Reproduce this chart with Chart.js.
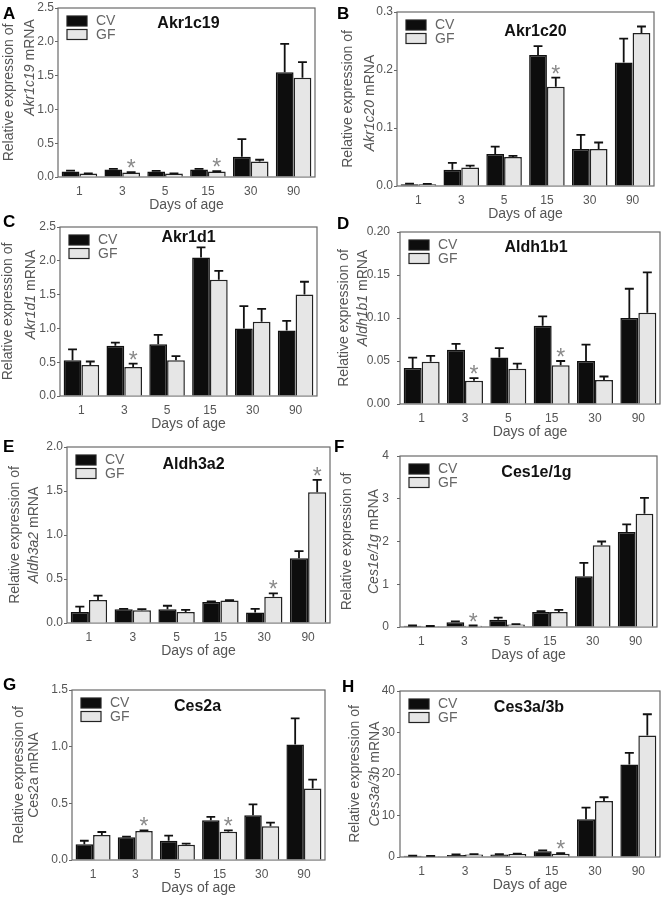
<!DOCTYPE html>
<html>
<head>
<meta charset="utf-8">
<script src="https://cdn.jsdelivr.net/npm/chart.js@4.4.0/dist/chart.umd.min.js"></script>
<style>
html, body { margin:0; padding:0; background:#fff; width:663px; height:899px; overflow:hidden; position:relative; }
canvas { position:absolute; }
.letter { position:absolute; font:bold 17px "Liberation Sans", Arial, sans-serif; line-height:17px; color:#000; }
</style>
</head>
<body>
<script>
var days = ['1', '3', '5', '15', '30', '90'];

// A - Akr1c19
var akr1c19CV    = [0.08, 0.11, 0.08, 0.11, 0.30, 1.55];
var akr1c19CVErr = [0.015, 0.01, 0.01, 0.01, 0.26, 0.42];
var akr1c19GF    = [0.05, 0.065, 0.05, 0.08, 0.23, 1.47];
var akr1c19GFErr = [0.005, 0.005, 0.005, 0.005, 0.025, 0.23];
var akr1c19Star  = [0, 1, 0, 1, 0, 0];

// B - Akr1c20
var akr1c20CV    = [0.003, 0.028, 0.055, 0.226, 0.064, 0.213];
var akr1c20CVErr = [0.001, 0.012, 0.013, 0.015, 0.024, 0.041];
var akr1c20GF    = [0.003, 0.032, 0.050, 0.171, 0.064, 0.264];
var akr1c20GFErr = [0.0005, 0.003, 0.002, 0.016, 0.011, 0.011];
var akr1c20Star  = [0, 0, 0, 1, 0, 0];

// C - Akr1d1
var akr1d1CV    = [0.53, 0.745, 0.765, 2.05, 1.00, 0.97];
var akr1d1CVErr = [0.16, 0.045, 0.14, 0.15, 0.33, 0.14];
var akr1d1GF    = [0.46, 0.43, 0.53, 1.72, 1.10, 1.50];
var akr1d1GFErr = [0.05, 0.05, 0.06, 0.13, 0.19, 0.19];
var akr1d1Star  = [0, 1, 0, 0, 0, 0];

// D - Aldh1b1
var aldh1b1CV    = [0.042, 0.063, 0.054, 0.091, 0.050, 0.100];
var aldh1b1CVErr = [0.012, 0.007, 0.011, 0.011, 0.019, 0.034];
var aldh1b1GF    = [0.049, 0.027, 0.041, 0.045, 0.028, 0.106];
var aldh1b1GFErr = [0.007, 0.003, 0.006, 0.005, 0.004, 0.047];
var aldh1b1Star  = [0, 1, 0, 1, 0, 0];

// E - Aldh3a2
var aldh3a2CV    = [0.126, 0.156, 0.156, 0.24, 0.118, 0.737];
var aldh3a2CVErr = [0.06, 0.005, 0.04, 0.005, 0.042, 0.08];
var aldh3a2GF    = [0.26, 0.145, 0.126, 0.256, 0.298, 1.485];
var aldh3a2GFErr = [0.05, 0.012, 0.024, 0.005, 0.038, 0.141];
var aldh3a2Star  = [0, 0, 0, 0, 1, 1];

// F - Ces1e/1g
var ces1eCV    = [0.03, 0.11, 0.17, 0.35, 1.19, 2.22];
var ces1eCVErr = [0.005, 0.02, 0.05, 0.02, 0.31, 0.18];
var ces1eGF    = [0.02, 0.03, 0.06, 0.35, 1.91, 2.65];
var ces1eGFErr = [0.003, 0.005, 0.005, 0.05, 0.09, 0.37];
var ces1eStar  = [0, 1, 0, 0, 0, 0];

// G - Ces2a
var ces2aCV    = [0.14, 0.20, 0.17, 0.35, 0.395, 1.02];
var ces2aCVErr = [0.03, 0.006, 0.045, 0.03, 0.095, 0.23];
var ces2aGF    = [0.22, 0.256, 0.135, 0.25, 0.297, 0.63];
var ces2aGFErr = [0.027, 0.006, 0.009, 0.012, 0.033, 0.08];
var ces2aStar  = [0, 1, 0, 1, 0, 0];

// H - Ces3a/3b
var ces3aCV    = [0.3, 0.5, 0.6, 1.4, 9.1, 22.3];
var ces3aCVErr = [0.05, 0.1, 0.1, 0.2, 2.8, 2.8];
var ces3aGF    = [0.2, 0.6, 0.7, 0.8, 13.5, 29.3];
var ces3aGFErr = [0.05, 0.1, 0.1, 0.1, 0.9, 5.1];
var ces3aStar  = [0, 0, 0, 1, 0, 0];

var FONT = '"Liberation Sans", Arial, sans-serif';
Chart.defaults.font.family = FONT;

// area = plot box in page px [left, top, right, bottom]
var panels = [
  {letter:'A', gene:'Akr1c19', italic:true, cv:akr1c19CV, cvErr:akr1c19CVErr, gf:akr1c19GF, gfErr:akr1c19GFErr, star:akr1c19Star,
   yMax:2.5, yStep:0.5, dec:1, area:[58,8,315,177], col:0, titleDx:2, titleDy:16, y1:9, y2:30, y2Shift:-25, tickPad:1, pos:[3,5]},
  {letter:'B', gene:'Akr1c20', italic:true, cv:akr1c20CV, cvErr:akr1c20CVErr, gf:akr1c20GF, gfErr:akr1c20GFErr, star:akr1c20Star,
   yMax:0.3, yStep:0.1, dec:1, area:[397,12,654,186], col:1, titleDx:10, titleDy:20, y1:16, y2:38, y2Shift:4, tickPad:1, pos:[337,5]},
  {letter:'C', gene:'Akr1d1', italic:true, cv:akr1d1CV, cvErr:akr1d1CVErr, gf:akr1d1GF, gfErr:akr1d1GFErr, star:akr1d1Star,
   yMax:2.5, yStep:0.5, dec:1, area:[60,227,317,396], col:0, titleDx:0, titleDy:11, y1:8, y2:31, y2Shift:-17, tickPad:1, pos:[3,213]},
  {letter:'D', gene:'Aldh1b1', italic:true, cv:aldh1b1CV, cvErr:aldh1b1CVErr, gf:aldh1b1GF, gfErr:aldh1b1GFErr, star:aldh1b1Star,
   yMax:0.2, yStep:0.05, dec:2, area:[400,232,660,404], col:1, titleDx:6, titleDy:16, y1:12, y2:31, y2Shift:-20, tickPad:7, pos:[337,215]},
  {letter:'E', gene:'Aldh3a2', italic:true, cv:aldh3a2CV, cvErr:aldh3a2CVErr, gf:aldh3a2GF, gfErr:aldh3a2GFErr, star:aldh3a2Star,
   yMax:2.0, yStep:0.5, dec:1, area:[67,447,330,623], col:0, titleDx:-5, titleDy:18, y1:15, y2:34, y2Shift:0, tickPad:1, pos:[3,438]},
  {letter:'F', gene:'Ces1e/1g', italic:true, cv:ces1eCV, cvErr:ces1eCVErr, gf:ces1eGF, gfErr:ces1eGFErr, star:ces1eStar,
   yMax:4, yStep:1, dec:0, area:[400,456,657,627], col:1, titleDx:8, titleDy:17, y1:15, y2:42, y2Shift:0, tickPad:8, pos:[334,438]},
  {letter:'G', gene:'Ces2a', italic:false, cv:ces2aCV, cvErr:ces2aCVErr, gf:ces2aGF, gfErr:ces2aGFErr, star:ces2aStar,
   yMax:1.5, yStep:0.5, dec:1, area:[72,690,325,860], col:0, titleDx:-1, titleDy:17, y1:19, y2:34, y2Shift:0, tickPad:1, pos:[3,676]},
  {letter:'H', gene:'Ces3a/3b', italic:true, cv:ces3aCV, cvErr:ces3aCVErr, gf:ces3aGF, gfErr:ces3aGFErr, star:ces3aStar,
   yMax:40, yStep:10, dec:0, area:[400,691,660,857], col:1, titleDx:-1, titleDy:17, y1:23, y2:43, y2Shift:0, tickPad:2, pos:[342,678]}
];

function makeExtras(p) {
  return {
    id: 'extras' + p.letter,
    beforeDatasetsDraw: function(chart) {
      var ctx = chart.ctx, ca = chart.chartArea;
      ctx.save();
      ctx.strokeStyle = '#6a6a6a';
      ctx.lineWidth = 1.2;
      ctx.strokeRect(ca.left, ca.top, ca.right - ca.left, ca.bottom - ca.top);
      ctx.restore();
    },
    afterDatasetsDraw: function(chart) {
      var ctx = chart.ctx, ca = chart.chartArea;
      var yScale = chart.scales.y;
      ctx.save();

      // error bars (upper half only) and stars
      chart.data.datasets.forEach(function(ds, i) {
        var meta = chart.getDatasetMeta(i);
        meta.data.forEach(function(bar, j) {
          var yTop = yScale.getPixelForValue(ds.data[j] + ds.err[j]);
          var capW = bar.width * 0.5;
          ctx.strokeStyle = '#111';
          ctx.lineWidth = 1.8;
          ctx.beginPath();
          ctx.moveTo(bar.x, bar.y);
          ctx.lineTo(bar.x, yTop);
          ctx.moveTo(bar.x - capW / 2, yTop);
          ctx.lineTo(bar.x + capW / 2, yTop);
          ctx.stroke();
          if (ds.star && ds.star[j]) {
            ctx.fillStyle = '#8a8a8a';
            ctx.font = '23px ' + FONT;
            ctx.textAlign = 'center';
            ctx.textBaseline = 'alphabetic';
            ctx.fillText('*', bar.x, yTop + 4);
          }
        });
      });

      // legend in the top left corner of the plot
      chart.data.datasets.forEach(function(ds, i) {
        var bx = ca.left + 9, by = ca.top + 8 + i * 13.5;
        ctx.fillStyle = ds.backgroundColor;
        ctx.fillRect(bx, by, 20, 10);
        ctx.strokeStyle = '#222';
        ctx.lineWidth = 1.2;
        ctx.strokeRect(bx, by, 20, 10);
        ctx.fillStyle = '#666';
        ctx.font = '14px ' + FONT;
        ctx.textAlign = 'left';
        ctx.textBaseline = 'middle';
        ctx.fillText(ds.label, bx + 29, by + 5.5);
      });

      // gene name inside the plot
      ctx.fillStyle = '#111';
      ctx.font = 'bold 16px ' + FONT;
      ctx.textAlign = 'center';
      ctx.textBaseline = 'middle';
      ctx.fillText(p.gene, (ca.left + ca.right) / 2 + p.titleDx, ca.top + p.titleDy);

      // y axis title, two lines, gene in italics
      var cy = (ca.top + ca.bottom) / 2;
      ctx.fillStyle = '#555';
      ctx.save();
      ctx.translate(p.y1, cy);
      ctx.rotate(-Math.PI / 2);
      ctx.font = '14px ' + FONT;
      ctx.fillText('Relative expression of', 0, 0);
      ctx.restore();

      ctx.save();
      ctx.translate(p.y2, cy + p.y2Shift);
      ctx.rotate(-Math.PI / 2);
      var geneFont = (p.italic ? 'italic ' : '') + '14px ' + FONT;
      ctx.font = geneFont;
      var w1 = ctx.measureText(p.gene).width;
      ctx.font = '14px ' + FONT;
      var w2 = ctx.measureText(' mRNA').width;
      var x0 = -(w1 + w2) / 2;
      ctx.textAlign = 'left';
      ctx.font = geneFont;
      ctx.fillText(p.gene, x0, 0);
      ctx.font = '14px ' + FONT;
      ctx.fillText(' mRNA', x0 + w1, 0);
      ctx.restore();

      ctx.restore();
    }
  };
}

panels.forEach(function(p) {
  var left = p.col === 0 ? 0 : 332;
  var width = p.col === 0 ? 332 : 331;
  var top = p.area[1] - 16;
  var height = p.area[3] - p.area[1] + 16 + 42;

  var canvas = document.createElement('canvas');
  canvas.width = width;
  canvas.height = height;
  canvas.style.left = left + 'px';
  canvas.style.top = top + 'px';
  document.body.appendChild(canvas);

  var letter = document.createElement('div');
  letter.className = 'letter';
  letter.textContent = p.letter;
  letter.style.left = p.pos[0] + 'px';
  letter.style.top = p.pos[1] + 'px';
  document.body.appendChild(letter);

  var yWidth = p.area[0] - left;
  var rightPad = width - (p.area[2] - left);

  new Chart(canvas.getContext('2d'), {
    type: 'bar',
    data: {
      labels: days,
      datasets: [
        { label: 'CV', data: p.cv, err: p.cvErr, backgroundColor: '#0d0d0d', borderColor: '#111', borderWidth: 1.5 },
        { label: 'GF', data: p.gf, err: p.gfErr, star: p.star, backgroundColor: '#e6e6e6', borderColor: '#222', borderWidth: 1.5 }
      ]
    },
    options: {
      responsive: false,
      animation: false,
      layout: { padding: { left: 0, right: rightPad, top: 16, bottom: 0 } },
      plugins: { legend: { display: false }, tooltip: { enabled: false } },
      datasets: { bar: { categoryPercentage: 0.83, barPercentage: 1.0 } },
      scales: {
        x: {
          grid: { display: false, drawTicks: false },
          border: { display: false },
          ticks: { color: '#555', font: { size: 12 }, padding: 7 },
          title: { display: true, text: 'Days of age', color: '#555', font: { size: 14 }, padding: { top: 0, bottom: 5 } },
          afterFit: function(s) { s.height = 42; }
        },
        y: {
          min: 0,
          max: p.yMax,
          ticks: {
            stepSize: p.yStep, color: '#555', font: { size: 12 }, padding: p.tickPad,
            callback: function(v) { return Number(v).toFixed(p.dec); }
          },
          grid: { drawOnChartArea: false, drawTicks: true, tickLength: 3, color: '#666' },
          border: { display: false },
          afterFit: function(s) { s.width = yWidth; }
        }
      }
    },
    plugins: [makeExtras(p)]
  });
});
</script>
</body>
</html>
